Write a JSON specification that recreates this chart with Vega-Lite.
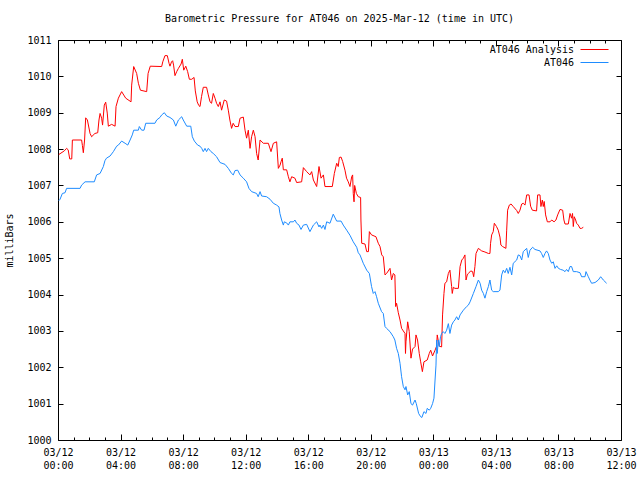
{
  "$schema": "https://vega.github.io/schema/vega-lite/v6.json",
  "width": 563,
  "height": 400,
  "autosize": {"type": "none"},
  "padding": {"left": 58, "top": 40, "right": 19, "bottom": 40},
  "background": "white",
  "config": {
    "font": "DejaVu Sans Mono",
    "view": {"stroke": "black", "strokeWidth": 1},
    "axis": {"grid": false, "domain": false, "labelFont": "DejaVu Sans Mono", "labelFontSize": 10, "labelColor": "black", "tickColor": "black", "titleFont": "DejaVu Sans Mono", "titleFontSize": 10, "titleFontWeight": "normal", "titleColor": "black"}
  },
  "title": {"text": "Barometric Pressure for AT046 on 2025-Mar-12 (time in UTC)", "font": "DejaVu Sans Mono", "fontSize": 10, "fontWeight": "normal", "color": "black", "anchor": "middle", "offset": 11},
  "datasets": {
    "analysis": [
      {"h":0.05,"p":1007.85},{"h":0.4,"p":1007.95},{"h":0.55,"p":1008.02},{"h":0.65,"p":1007.98},{"h":0.75,"p":1007.73},{"h":0.88,"p":1007.73},{"h":0.92,"p":1008.25},{"h":1.51,"p":1008.25},{"h":1.56,"p":1008.1},{"h":1.62,"p":1007.9},{"h":1.7,"p":1008.25},{"h":1.77,"p":1008.86},{"h":1.88,"p":1008.8},{"h":2.05,"p":1008.43},{"h":2.15,"p":1008.34},{"h":2.36,"p":1008.43},{"h":2.54,"p":1008.45},{"h":2.62,"p":1008.8},{"h":2.69,"p":1008.98},{"h":2.79,"p":1008.85},{"h":2.85,"p":1008.66},{"h":2.96,"p":1009.21},{"h":3.05,"p":1009.29},{"h":3.15,"p":1008.99},{"h":3.22,"p":1008.63},{"h":3.43,"p":1008.68},{"h":3.65,"p":1008.63},{"h":3.71,"p":1009.17},{"h":3.86,"p":1009.4},{"h":4.07,"p":1009.58},{"h":4.33,"p":1009.4},{"h":4.67,"p":1009.3},{"h":4.71,"p":1009.76},{"h":4.84,"p":1010.27},{"h":5.03,"p":1010.08},{"h":5.14,"p":1009.81},{"h":5.27,"p":1009.62},{"h":5.67,"p":1009.58},{"h":5.76,"p":1010.08},{"h":5.9,"p":1010.28},{"h":6.63,"p":1010.27},{"h":6.7,"p":1010.4},{"h":6.84,"p":1010.57},{"h":6.99,"p":1010.57},{"h":7.1,"p":1010.36},{"h":7.16,"p":1010.28},{"h":7.26,"p":1010.4},{"h":7.33,"p":1010.43},{"h":7.39,"p":1010.31},{"h":7.48,"p":1010.02},{"h":7.59,"p":1010.13},{"h":7.7,"p":1010.22},{"h":7.87,"p":1010.34},{"h":7.95,"p":1010.47},{"h":8.04,"p":1010.17},{"h":8.17,"p":1010.28},{"h":8.29,"p":1010.13},{"h":8.4,"p":1009.92},{"h":8.55,"p":1009.92},{"h":8.7,"p":1009.97},{"h":8.78,"p":1009.6},{"h":8.9,"p":1009.3},{"h":9.0,"p":1009.2},{"h":9.08,"p":1009.17},{"h":9.18,"p":1009.45},{"h":9.29,"p":1009.7},{"h":9.5,"p":1009.7},{"h":9.61,"p":1009.49},{"h":9.72,"p":1009.3},{"h":9.82,"p":1009.26},{"h":9.93,"p":1009.53},{"h":10.04,"p":1009.4},{"h":10.14,"p":1009.26},{"h":10.25,"p":1009.17},{"h":10.36,"p":1009.3},{"h":10.46,"p":1009.07},{"h":10.63,"p":1009.35},{"h":10.78,"p":1009.32},{"h":10.89,"p":1009.07},{"h":10.99,"p":1008.8},{"h":11.1,"p":1008.57},{"h":11.2,"p":1008.71},{"h":11.32,"p":1008.62},{"h":11.53,"p":1008.62},{"h":11.64,"p":1008.85},{"h":11.85,"p":1008.88},{"h":11.96,"p":1008.52},{"h":12.06,"p":1008.3},{"h":12.17,"p":1008.52},{"h":12.28,"p":1008.02},{"h":12.38,"p":1008.34},{"h":12.49,"p":1008.52},{"h":12.6,"p":1008.34},{"h":12.7,"p":1007.88},{"h":12.8,"p":1007.7},{"h":12.92,"p":1008.25},{"h":13.13,"p":1008.16},{"h":13.45,"p":1008.16},{"h":13.62,"p":1007.93},{"h":13.77,"p":1008.16},{"h":13.98,"p":1008.2},{"h":14.09,"p":1007.47},{"h":14.2,"p":1007.56},{"h":14.26,"p":1007.65},{"h":14.34,"p":1007.75},{"h":14.41,"p":1007.43},{"h":14.62,"p":1007.43},{"h":14.73,"p":1007.24},{"h":14.83,"p":1007.1},{"h":14.94,"p":1007.24},{"h":15.15,"p":1007.2},{"h":15.26,"p":1007.08},{"h":15.58,"p":1007.1},{"h":15.69,"p":1007.49},{"h":15.9,"p":1007.38},{"h":16.11,"p":1007.29},{"h":16.22,"p":1007.38},{"h":16.33,"p":1007.15},{"h":16.54,"p":1006.97},{"h":16.69,"p":1007.52},{"h":16.82,"p":1007.2},{"h":16.97,"p":1007.29},{"h":17.07,"p":1006.97},{"h":17.54,"p":1006.97},{"h":17.67,"p":1007.33},{"h":17.82,"p":1007.61},{"h":17.92,"p":1007.52},{"h":17.99,"p":1007.77},{"h":18.1,"p":1007.78},{"h":18.2,"p":1007.66},{"h":18.35,"p":1007.42},{"h":18.45,"p":1007.2},{"h":18.56,"p":1007.1},{"h":18.67,"p":1006.97},{"h":18.78,"p":1007.24},{"h":18.84,"p":1007.29},{"h":18.88,"p":1006.78},{"h":18.93,"p":1006.55},{"h":18.97,"p":1007.0},{"h":19.08,"p":1006.78},{"h":19.2,"p":1006.69},{"h":19.35,"p":1006.67},{"h":19.37,"p":1006.05},{"h":19.42,"p":1005.41},{"h":19.63,"p":1005.39},{"h":19.74,"p":1005.18},{"h":19.85,"p":1005.18},{"h":19.91,"p":1005.73},{"h":20.05,"p":1005.64},{"h":20.33,"p":1005.59},{"h":20.48,"p":1005.41},{"h":20.59,"p":1005.32},{"h":20.7,"p":1005.09},{"h":20.8,"p":1005.04},{"h":20.91,"p":1004.54},{"h":21.01,"p":1004.58},{"h":21.23,"p":1004.72},{"h":21.33,"p":1004.4},{"h":21.44,"p":1004.58},{"h":21.54,"p":1004.54},{"h":21.59,"p":1003.67},{"h":21.65,"p":1003.76},{"h":21.76,"p":1003.5},{"h":21.87,"p":1003.3},{"h":21.97,"p":1003.07},{"h":22.08,"p":1003.0},{"h":22.19,"p":1002.93},{"h":22.22,"p":1002.38},{"h":22.25,"p":1002.7},{"h":22.36,"p":1003.25},{"h":22.46,"p":1002.98},{"h":22.57,"p":1002.25},{"h":22.67,"p":1002.5},{"h":22.83,"p":1002.57},{"h":22.89,"p":1002.89},{"h":22.99,"p":1002.75},{"h":23.1,"p":1002.38},{"h":23.19,"p":1002.15},{"h":23.3,"p":1001.88},{"h":23.4,"p":1002.15},{"h":23.61,"p":1002.2},{"h":23.74,"p":1002.38},{"h":23.83,"p":1002.47},{"h":23.95,"p":1002.31},{"h":24.11,"p":1002.47},{"h":24.21,"p":1002.58},{"h":24.25,"p":1002.89},{"h":24.38,"p":1002.58},{"h":24.53,"p":1002.56},{"h":24.59,"p":1003.44},{"h":24.68,"p":1004.03},{"h":24.74,"p":1004.31},{"h":24.85,"p":1004.35},{"h":24.96,"p":1004.58},{"h":25.06,"p":1004.67},{"h":25.17,"p":1004.22},{"h":25.21,"p":1004.03},{"h":25.28,"p":1004.2},{"h":25.38,"p":1004.17},{"h":25.6,"p":1004.17},{"h":25.71,"p":1004.77},{"h":25.82,"p":1004.95},{"h":25.92,"p":1005.0},{"h":26.02,"p":1005.09},{"h":26.09,"p":1004.4},{"h":26.17,"p":1004.54},{"h":26.24,"p":1004.58},{"h":26.39,"p":1004.65},{"h":26.51,"p":1004.63},{"h":26.58,"p":1004.49},{"h":26.66,"p":1004.77},{"h":26.73,"p":1005.13},{"h":26.88,"p":1005.27},{"h":27.09,"p":1005.2},{"h":27.3,"p":1005.17},{"h":27.52,"p":1005.13},{"h":27.62,"p":1005.13},{"h":27.66,"p":1005.41},{"h":27.73,"p":1005.64},{"h":27.83,"p":1005.73},{"h":27.9,"p":1005.96},{"h":28.04,"p":1005.87},{"h":28.15,"p":1005.77},{"h":28.26,"p":1005.58},{"h":28.32,"p":1005.36},{"h":28.43,"p":1005.32},{"h":28.64,"p":1005.27},{"h":28.69,"p":1005.77},{"h":28.75,"p":1006.32},{"h":28.86,"p":1006.46},{"h":28.97,"p":1006.49},{"h":29.11,"p":1006.42},{"h":29.33,"p":1006.31},{"h":29.43,"p":1006.23},{"h":29.54,"p":1006.32},{"h":29.65,"p":1006.49},{"h":29.75,"p":1006.51},{"h":29.86,"p":1006.46},{"h":29.97,"p":1006.74},{"h":30.12,"p":1006.74},{"h":30.22,"p":1006.43},{"h":30.33,"p":1006.32},{"h":30.6,"p":1006.3},{"h":30.67,"p":1006.74},{"h":30.82,"p":1006.74},{"h":30.88,"p":1006.42},{"h":30.97,"p":1006.6},{"h":31.03,"p":1006.42},{"h":31.09,"p":1006.56},{"h":31.18,"p":1006.19},{"h":31.29,"p":1006.0},{"h":31.46,"p":1006.0},{"h":31.57,"p":1006.05},{"h":31.72,"p":1006.0},{"h":31.84,"p":1006.05},{"h":31.95,"p":1006.19},{"h":32.1,"p":1006.34},{"h":32.27,"p":1006.32},{"h":32.35,"p":1006.05},{"h":32.42,"p":1005.94},{"h":32.63,"p":1005.94},{"h":32.74,"p":1006.23},{"h":32.84,"p":1006.1},{"h":32.9,"p":1006.23},{"h":32.95,"p":1005.87},{"h":33.01,"p":1006.14},{"h":33.1,"p":1006.05},{"h":33.16,"p":1005.96},{"h":33.27,"p":1005.91},{"h":33.38,"p":1005.82},{"h":33.48,"p":1005.82},{"h":33.59,"p":1005.85}
    ],
    "obs": [
      {"h":0.05,"p":1006.58},{"h":0.13,"p":1006.62},{"h":0.28,"p":1006.78},{"h":0.45,"p":1006.8},{"h":0.55,"p":1006.92},{"h":1.41,"p":1006.92},{"h":1.51,"p":1007.01},{"h":1.73,"p":1007.1},{"h":2.32,"p":1007.1},{"h":2.47,"p":1007.29},{"h":2.69,"p":1007.33},{"h":2.9,"p":1007.52},{"h":3.0,"p":1007.68},{"h":3.1,"p":1007.75},{"h":3.33,"p":1007.81},{"h":3.54,"p":1007.93},{"h":3.75,"p":1008.08},{"h":3.86,"p":1008.11},{"h":4.07,"p":1008.22},{"h":4.29,"p":1008.16},{"h":4.46,"p":1008.11},{"h":4.61,"p":1008.25},{"h":4.75,"p":1008.39},{"h":4.84,"p":1008.52},{"h":5.14,"p":1008.52},{"h":5.2,"p":1008.62},{"h":5.35,"p":1008.52},{"h":5.5,"p":1008.52},{"h":5.61,"p":1008.71},{"h":6.2,"p":1008.71},{"h":6.31,"p":1008.8},{"h":6.52,"p":1008.87},{"h":6.63,"p":1008.94},{"h":6.8,"p":1009.0},{"h":6.95,"p":1008.91},{"h":7.16,"p":1008.87},{"h":7.38,"p":1008.8},{"h":7.53,"p":1008.63},{"h":7.7,"p":1008.8},{"h":7.91,"p":1008.89},{"h":8.01,"p":1008.8},{"h":8.23,"p":1008.63},{"h":8.49,"p":1008.63},{"h":8.59,"p":1008.34},{"h":8.72,"p":1008.22},{"h":8.93,"p":1008.11},{"h":9.08,"p":1008.08},{"h":9.19,"p":1008.02},{"h":9.29,"p":1007.93},{"h":9.4,"p":1008.02},{"h":9.5,"p":1007.93},{"h":9.61,"p":1008.02},{"h":9.78,"p":1007.93},{"h":9.93,"p":1007.88},{"h":10.14,"p":1007.79},{"h":10.36,"p":1007.63},{"h":10.68,"p":1007.58},{"h":10.89,"p":1007.47},{"h":11.1,"p":1007.33},{"h":11.21,"p":1007.29},{"h":11.32,"p":1007.41},{"h":11.49,"p":1007.42},{"h":11.64,"p":1007.29},{"h":11.85,"p":1007.2},{"h":12.06,"p":1007.1},{"h":12.21,"p":1006.92},{"h":12.38,"p":1006.83},{"h":12.7,"p":1006.78},{"h":12.8,"p":1006.69},{"h":12.92,"p":1006.83},{"h":13.02,"p":1006.71},{"h":13.34,"p":1006.69},{"h":13.56,"p":1006.62},{"h":13.77,"p":1006.51},{"h":13.98,"p":1006.46},{"h":14.13,"p":1006.41},{"h":14.19,"p":1006.23},{"h":14.3,"p":1006.05},{"h":14.41,"p":1005.91},{"h":14.47,"p":1006.0},{"h":14.62,"p":1005.97},{"h":14.73,"p":1005.91},{"h":14.83,"p":1006.0},{"h":15.05,"p":1006.0},{"h":15.15,"p":1006.05},{"h":15.26,"p":1005.96},{"h":15.41,"p":1005.91},{"h":15.54,"p":1005.79},{"h":15.69,"p":1005.91},{"h":15.9,"p":1005.93},{"h":16.11,"p":1005.73},{"h":16.33,"p":1005.91},{"h":16.54,"p":1006.0},{"h":16.69,"p":1005.86},{"h":16.75,"p":1005.91},{"h":16.86,"p":1005.82},{"h":16.97,"p":1005.91},{"h":17.07,"p":1005.79},{"h":17.18,"p":1006.0},{"h":17.39,"p":1005.96},{"h":17.6,"p":1006.21},{"h":17.82,"p":1006.02},{"h":18.1,"p":1006.02},{"h":18.24,"p":1005.91},{"h":18.46,"p":1005.77},{"h":18.67,"p":1005.63},{"h":18.88,"p":1005.45},{"h":19.1,"p":1005.3},{"h":19.2,"p":1005.15},{"h":19.31,"p":1005.09},{"h":19.52,"p":1004.86},{"h":19.74,"p":1004.67},{"h":19.91,"p":1004.58},{"h":20.05,"p":1004.22},{"h":20.16,"p":1004.03},{"h":20.27,"p":1004.08},{"h":20.37,"p":1003.94},{"h":20.48,"p":1003.76},{"h":20.69,"p":1003.53},{"h":20.8,"p":1003.48},{"h":20.91,"p":1003.12},{"h":21.01,"p":1003.07},{"h":21.23,"p":1002.98},{"h":21.44,"p":1002.84},{"h":21.54,"p":1002.75},{"h":21.65,"p":1002.52},{"h":21.76,"p":1002.38},{"h":21.87,"p":1002.11},{"h":21.97,"p":1001.74},{"h":22.08,"p":1001.47},{"h":22.19,"p":1001.38},{"h":22.25,"p":1001.47},{"h":22.36,"p":1001.24},{"h":22.46,"p":1001.33},{"h":22.57,"p":1001.0},{"h":22.67,"p":1000.96},{"h":22.83,"p":1001.1},{"h":22.91,"p":1001.0},{"h":23.06,"p":1000.73},{"h":23.19,"p":1000.64},{"h":23.27,"p":1000.62},{"h":23.4,"p":1000.78},{"h":23.53,"p":1000.73},{"h":23.61,"p":1000.87},{"h":23.74,"p":1000.82},{"h":23.83,"p":1000.87},{"h":23.95,"p":1001.0},{"h":24.04,"p":1001.15},{"h":24.11,"p":1001.65},{"h":24.17,"p":1002.06},{"h":24.21,"p":1002.75},{"h":24.25,"p":1002.38},{"h":24.32,"p":1002.75},{"h":24.38,"p":1002.57},{"h":24.46,"p":1002.84},{"h":24.53,"p":1002.93},{"h":24.63,"p":1002.98},{"h":24.74,"p":1002.93},{"h":24.85,"p":1003.02},{"h":24.96,"p":1003.2},{"h":25.06,"p":1002.93},{"h":25.17,"p":1003.16},{"h":25.28,"p":1003.25},{"h":25.38,"p":1003.3},{"h":25.49,"p":1003.39},{"h":25.6,"p":1003.3},{"h":25.71,"p":1003.44},{"h":25.92,"p":1003.57},{"h":26.13,"p":1003.67},{"h":26.24,"p":1003.71},{"h":26.35,"p":1003.8},{"h":26.56,"p":1004.03},{"h":26.73,"p":1004.22},{"h":26.88,"p":1004.4},{"h":26.99,"p":1004.31},{"h":27.09,"p":1004.12},{"h":27.2,"p":1004.03},{"h":27.3,"p":1003.9},{"h":27.41,"p":1004.08},{"h":27.52,"p":1004.22},{"h":27.62,"p":1004.4},{"h":27.73,"p":1004.12},{"h":27.83,"p":1004.08},{"h":28.15,"p":1004.08},{"h":28.26,"p":1004.12},{"h":28.37,"p":1004.54},{"h":28.47,"p":1004.67},{"h":28.58,"p":1004.6},{"h":28.69,"p":1004.72},{"h":28.79,"p":1004.58},{"h":28.9,"p":1004.75},{"h":29.01,"p":1004.54},{"h":29.11,"p":1004.86},{"h":29.33,"p":1004.95},{"h":29.43,"p":1005.09},{"h":29.54,"p":1005.07},{"h":29.65,"p":1004.95},{"h":29.75,"p":1005.18},{"h":29.97,"p":1005.27},{"h":30.07,"p":1005.02},{"h":30.18,"p":1005.22},{"h":30.35,"p":1005.3},{"h":30.5,"p":1005.24},{"h":30.82,"p":1005.2},{"h":30.92,"p":1005.13},{"h":31.03,"p":1005.02},{"h":31.14,"p":1005.13},{"h":31.24,"p":1005.2},{"h":31.35,"p":1005.13},{"h":31.46,"p":1004.95},{"h":31.57,"p":1004.86},{"h":31.67,"p":1004.9},{"h":31.78,"p":1004.72},{"h":31.89,"p":1004.79},{"h":32.0,"p":1004.72},{"h":32.14,"p":1004.69},{"h":32.3,"p":1004.67},{"h":32.42,"p":1004.63},{"h":32.52,"p":1004.69},{"h":32.63,"p":1004.63},{"h":32.74,"p":1004.77},{"h":32.84,"p":1004.77},{"h":32.95,"p":1004.63},{"h":33.16,"p":1004.63},{"h":33.38,"p":1004.6},{"h":33.48,"p":1004.49},{"h":33.7,"p":1004.49},{"h":33.76,"p":1004.63},{"h":33.91,"p":1004.49},{"h":34.01,"p":1004.4},{"h":34.12,"p":1004.31},{"h":34.34,"p":1004.33},{"h":34.55,"p":1004.4},{"h":34.7,"p":1004.49},{"h":34.87,"p":1004.4},{"h":35.08,"p":1004.31}
    ]
  },
  "resolve": {"axis": {"x": "independent", "y": "independent"}},
  "layer": [
    {
      "data": {"name": "analysis"},
      "mark": {"type": "line", "strokeWidth": 1, "interpolate": "linear"},
      "encoding": {
        "x": {"field": "h", "type": "quantitative", "scale": {"domain": [0, 36], "nice": false, "zero": false},
              "axis": {"orient": "bottom", "title": null, "values": [0,4,8,12,16,20,24,28,32,36], "tickSize": -6, "labelPadding": 13, "labelFlush": false, "labelOverlap": false, "labelBound": false, "labelLineHeight": 13, "labelBaseline": "top",
                       "labelExpr": "[datum.value < 24 ? '03/12' : '03/13', format(datum.value % 24, '02d') + ':00']"}},
        "y": {"field": "p", "type": "quantitative", "scale": {"domain": [1000, 1011], "nice": false, "zero": false},
              "axis": {"orient": "left", "title": "milliBars", "values": [1000,1001,1002,1003,1004,1005,1006,1007,1008,1009,1010,1011], "tickSize": -5, "labelPadding": 12, "format": "d", "labelOverlap": false, "labelBound": false, "labelFlush": false, "titlePadding": 12}},
        "color": {"datum": "AT046 Analysis", "type": "nominal",
                  "scale": {"domain": ["AT046 Analysis", "AT046"], "range": ["#ff0000", "#1e8cff"]},
                  "legend": {"title": null, "orient": "none", "legendX": 529, "legendY": 2, "padding": 0, "symbolType": "M-2,0H2", "symbolSize": 196, "symbolStrokeWidth": 1, "symbolFillColor": "transparent", "labelAlign": "right", "labelOffset": -28, "labelFont": "DejaVu Sans Mono", "labelFontSize": 10, "labelColor": "black", "rowPadding": -1, "labelLimit": 300}}
      }
    },
    {
      "data": {"name": "obs"},
      "mark": {"type": "line", "strokeWidth": 1, "interpolate": "linear"},
      "encoding": {
        "x": {"field": "h", "type": "quantitative", "axis": {"orient": "top", "title": null, "values": [0,4,8,12,16,20,24,28,32,36], "tickSize": -6, "labels": false}},
        "y": {"field": "p", "type": "quantitative", "axis": {"orient": "right", "title": null, "values": [1000,1001,1002,1003,1004,1005,1006,1007,1008,1009,1010,1011], "tickSize": -5, "labels": false}},
        "color": {"datum": "AT046", "type": "nominal"}
      }
    },
    {
      "data": {"name": "obs"},
      "mark": {"type": "point", "opacity": 0},
      "encoding": {
        "x": {"field": "h", "type": "quantitative", "axis": {"orient": "bottom", "title": null, "values": [1,2,3,5,6,7,9,10,11,13,14,15,17,18,19,21,22,23,25,26,27,29,30,31,33,34,35], "tickSize": -3, "labels": false}},
        "y": {"field": "p", "type": "quantitative", "axis": null}
      }
    },
    {
      "data": {"name": "obs"},
      "mark": {"type": "point", "opacity": 0},
      "encoding": {
        "x": {"field": "h", "type": "quantitative", "axis": {"orient": "top", "title": null, "values": [1,2,3,5,6,7,9,10,11,13,14,15,17,18,19,21,22,23,25,26,27,29,30,31,33,34,35], "tickSize": -3, "labels": false}},
        "y": {"field": "p", "type": "quantitative", "axis": null}
      }
    }
  ]
}
